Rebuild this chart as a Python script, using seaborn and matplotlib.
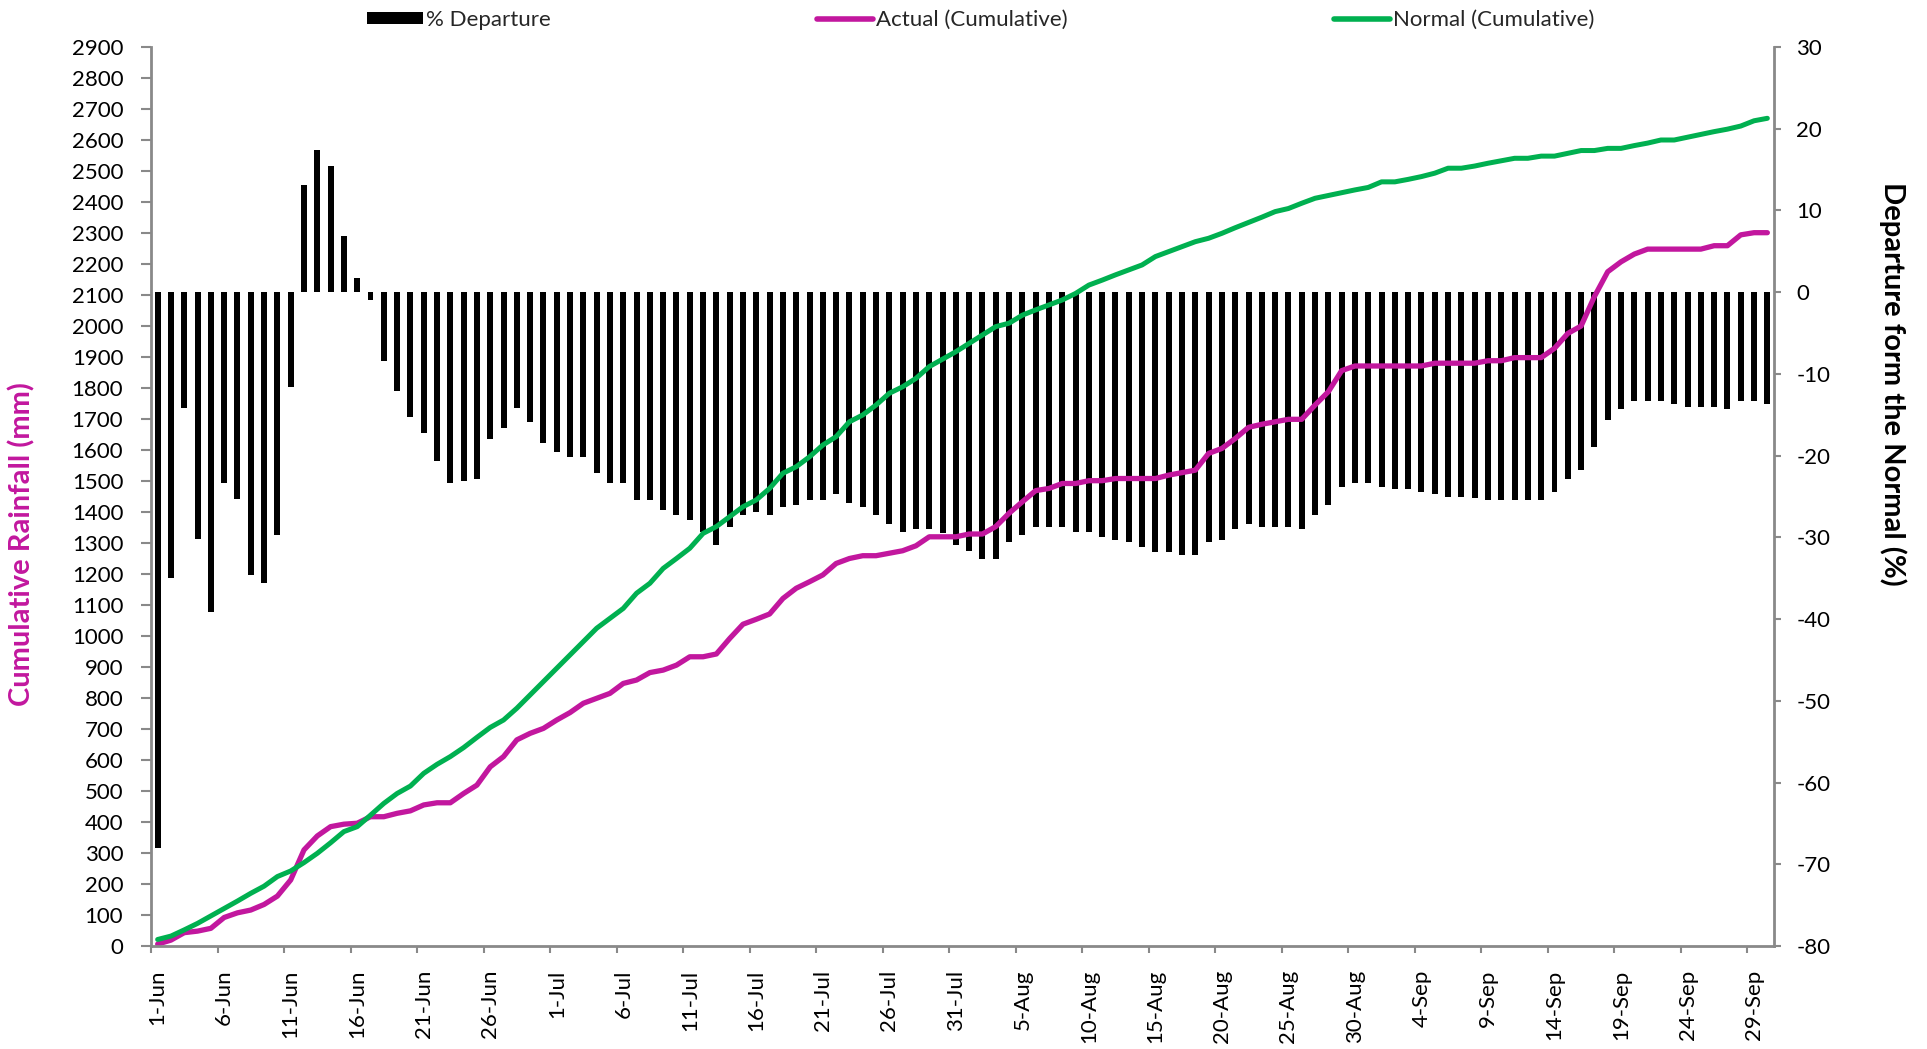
import numpy as np
import pandas as pd
import matplotlib
matplotlib.use("Agg")
import matplotlib.pyplot as plt
import seaborn as sns
from matplotlib.patches import Patch
from matplotlib.lines import Line2D

# ---------------- data ----------------
months = [("Jun", 30), ("Jul", 31), ("Aug", 31), ("Sep", 30)]
days = [f"{d}-{m}" for m, n in months for d in range(1, n + 1)]

departure = [
    -68.0, -35.0, -14.2, -30.2, -39.1, -23.4, -25.3, -34.6, -35.6, -29.7,
    -11.6, 13.1, 17.4, 15.4, 6.9, 1.7, -0.9, -8.4, -12.1, -15.3,
    -17.2, -20.6, -23.4, -23.1, -22.9, -18.0, -16.6, -14.2, -15.9, -18.5,
    -19.5, -20.2, -20.2, -22.1, -23.4, -23.4, -25.4, -25.4, -26.7, -27.3,
    -27.9, -29.3, -30.9, -28.7, -27.3, -26.9, -27.3, -26.3, -26.0, -25.4,
    -25.4, -24.7, -25.8, -26.3, -27.3, -28.4, -29.3, -29.0, -29.0, -29.5,
    -30.9, -31.7, -32.6, -32.6, -30.6, -29.7, -28.7, -28.7, -28.7, -29.4,
    -29.4, -29.9, -30.3, -30.6, -31.2, -31.8, -31.8, -32.2, -32.2, -30.6,
    -30.3, -29.0, -28.4, -28.7, -28.7, -28.7, -29.0, -27.3, -26.0, -23.8,
    -23.4, -23.4, -23.8, -24.1, -24.1, -24.4, -24.7, -25.0, -25.0, -25.2,
    -25.4, -25.4, -25.4, -25.4, -25.4, -24.4, -22.8, -21.8, -18.9, -15.6,
    -14.3, -13.3, -13.3, -13.3, -13.7, -14.0, -14.0, -14.0, -14.3, -13.3,
    -13.3, -13.7,
]

actual = [
    6, 19, 43, 48, 57, 92, 107, 116, 134, 161,
    213, 310, 355, 385, 393, 396, 417, 417, 428, 436,
    455, 462, 462, 492, 519, 578, 611, 665, 686, 702,
    729, 753, 783, 799, 815, 847, 858, 882, 890, 906,
    933, 933, 942, 992, 1038, 1054, 1071, 1121, 1154, 1175,
    1197, 1234, 1250, 1259, 1259, 1267, 1275, 1291, 1320, 1320,
    1320, 1329, 1329, 1353, 1396, 1433, 1469, 1476, 1492, 1492,
    1501, 1501, 1508, 1508, 1508, 1508, 1519, 1527, 1535, 1589,
    1605, 1637, 1673, 1683, 1691, 1699, 1699, 1745, 1788, 1856,
    1871, 1871, 1871, 1871, 1871, 1871, 1880, 1880, 1880, 1880,
    1888, 1888, 1898, 1898, 1898, 1928, 1976, 2000, 2095, 2175,
    2207, 2232, 2248, 2248, 2248, 2248, 2248, 2259, 2259, 2294,
    2301, 2301,
]

normal = [
    21, 32, 52, 73, 97, 121, 145, 170, 193, 224,
    242, 269, 299, 333, 369, 385, 422, 460, 492, 516,
    557, 586, 611, 640, 673, 705, 729, 767, 810, 853,
    896, 939, 982, 1025, 1057, 1089, 1138, 1170, 1218, 1250,
    1283, 1331, 1353, 1385, 1417, 1439, 1476, 1525, 1546, 1578,
    1616, 1643, 1691, 1713, 1745, 1783, 1804, 1831, 1869, 1893,
    1917, 1944, 1971, 1998, 2009, 2035, 2052, 2068, 2084, 2105,
    2132, 2148, 2165, 2181, 2197, 2224, 2240, 2256, 2272, 2283,
    2299, 2317, 2334, 2351, 2369, 2379, 2396, 2412, 2421, 2430,
    2439, 2447, 2465, 2465, 2473, 2482, 2493, 2509, 2509, 2516,
    2525, 2533, 2541, 2541, 2548, 2548, 2557, 2566, 2566, 2573,
    2573, 2582, 2590, 2600, 2600, 2609, 2618, 2627, 2635, 2645,
    2662, 2670,
]

tick_labels = days[::5]
left_ticks = list(range(0, 3000, 100))
right_ticks = list(range(-80, 40, 10))

series_names = ["% Departure", "Actual (Cumulative)", "Normal (Cumulative)"]
left_label = "Cumulative Rainfall (mm)"
right_label = "Departure form the Normal (%)"

# ---------------- style ----------------
MAG = "#C2179E"
GREEN = "#00B050"
GRAY = "#898989"
FS = 16

sns.set_theme(style="white")
plt.rcParams["font.family"] = ["Lato", "DejaVu Sans"]

df = pd.DataFrame({"day": days, "pos": np.arange(len(days)),
                   "dep": departure, "actual": actual, "normal": normal})

W, H = 1927, 1049
fig = plt.figure(figsize=(W / 100, H / 100), dpi=100)
L, R, T, B = 151, 1774, 47, 946
ax1 = fig.add_axes([L / W, 1 - B / H, (R - L) / W, (B - T) / H])
ax2 = ax1.twinx()

# bars on secondary (right) axis
sns.barplot(data=df, x="pos", y="dep", ax=ax2, color="black", width=0.45,
            saturation=1, errorbar=None, native_scale=True, edgecolor="none")
# lines on primary (left) axis
sns.lineplot(data=df, x="pos", y="actual", ax=ax1, color=MAG, linewidth=3.8,
             solid_joinstyle="round", solid_capstyle="round")
sns.lineplot(data=df, x="pos", y="normal", ax=ax1, color=GREEN, linewidth=3.6,
             solid_joinstyle="round", solid_capstyle="round")

ax1.set_zorder(ax2.get_zorder() + 1)
ax1.patch.set_visible(False)

ax1.set_ylim(0, 2900)
ax1.set_yticks(left_ticks)
ax1.set_yticklabels([str(t) for t in left_ticks])
ax2.set_ylim(-80, 30)
ax2.set_yticks(right_ticks)
ax2.set_yticklabels([str(t) for t in right_ticks])

ax1.set_xlim(-0.5, len(days) - 0.5)
ax1.set_xticks(np.arange(0, len(days), 5))
ax1.set_xticklabels(tick_labels, rotation=90)
ax1.set_xticks(np.arange(-0.5, len(days) - 1, 5), minor=True)

ax1.set_xlabel("")
ax1.set_ylabel("")
ax2.set_ylabel("")
ax2.set_xlabel("")

for s in ["top", "right"]:
    ax1.spines[s].set_visible(False)
for s in ["top", "left", "bottom"]:
    ax2.spines[s].set_visible(False)
for s in ["left", "bottom"]:
    ax1.spines[s].set_color(GRAY)
    ax1.spines[s].set_linewidth(2)
ax2.spines["right"].set_color(GRAY)
ax2.spines["right"].set_linewidth(2)

ax1.tick_params(axis="y", which="major", direction="out", length=7, width=1.5,
                color=GRAY, labelsize=FS, pad=13, left=True, labelcolor="black")
ax1.tick_params(axis="x", which="major", length=0, labelsize=FS, pad=17,
                labelcolor="black")
ax1.tick_params(axis="x", which="minor", direction="out", length=5, width=1.5,
                color=GRAY, bottom=True)
ax2.tick_params(axis="y", which="major", direction="out", length=5, width=1.5,
                color=GRAY, labelsize=FS, pad=11, right=True, labelcolor="black")

fig.text(22 / W, 1 - 544 / H, left_label, rotation=90, ha="center", va="center",
         color=MAG, fontsize=21, fontweight="bold")
fig.text(1893 / W, 1 - 384 / H, right_label, rotation=-90, ha="center", va="center",
         color="black", fontsize=21, fontweight="bold")

handles = [Patch(facecolor="black", edgecolor="none"),
           Line2D([], [], color=MAG, linewidth=4),
           Line2D([], [], color=GREEN, linewidth=4)]
fig.legend(handles, series_names, loc="center", bbox_to_anchor=(0.509, 1 - 20 / H),
           ncol=3, frameon=False, fontsize=FS, handlelength=2.5, handletextpad=0.15,
           columnspacing=12, handleheight=0.5)

fig.savefig("out.png", dpi=100, facecolor="white")
